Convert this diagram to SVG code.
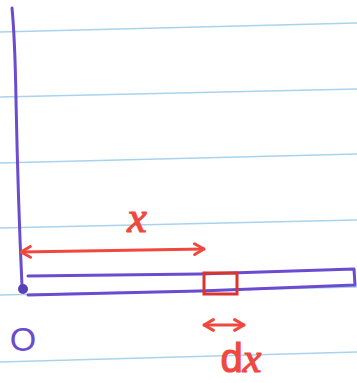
<svg xmlns="http://www.w3.org/2000/svg" width="357" height="383" viewBox="0 0 357 383">
<defs>
<style>
.rule{stroke:#a9d3ec;stroke-width:1.6;fill:none}
.pur{stroke:#6a4ccf;stroke-width:3;fill:none;stroke-linecap:round;stroke-linejoin:round}
.red{stroke:#f0483e;stroke-width:3.2;fill:none;stroke-linecap:round;stroke-linejoin:round}
.redt{fill:#f0483e;stroke:#f0483e;stroke-width:1.2;font-family:"Liberation Serif",serif;font-style:italic}
</style>
<marker id="ah" viewBox="0 0 10 10" refX="9" refY="5" markerWidth="4.2" markerHeight="4.2" orient="auto-start-reverse" markerUnits="strokeWidth">
<path d="M2,1 L9,5 L2,9" fill="none" stroke="#f0483e" stroke-width="2.2" stroke-linecap="round" stroke-linejoin="round"/>
</marker>
</defs>
<rect width="357" height="383" fill="#ffffff"/>
<g id="paper">
<line class="rule" x1="0" y1="32" x2="357" y2="23"/>
<line class="rule" x1="0" y1="97" x2="357" y2="89"/>
<line class="rule" x1="0" y1="163" x2="357" y2="154"/>
<line class="rule" x1="0" y1="228" x2="357" y2="220"/>
<line class="rule" x1="0" y1="295" x2="357" y2="287"/>
<line class="rule" x1="0" y1="362" x2="357" y2="352"/>
</g>
<g id="axis">
<path class="pur" d="M12,8 Q15,40 16,100 Q18,200 22,286"/>
<circle cx="23" cy="289" r="5" fill="#5b3fb8"/>
</g>
<g id="rod">
<path class="pur" d="M28,276 L200,274 L354,269 L355,285 L200,291 L28,295"/>
</g>
<g id="element">
<rect x="204" y="273" width="33" height="21" fill="none" stroke="#d9352d" stroke-width="3"/>
</g>
<g id="connectors">
<line class="red" x1="21" y1="252" x2="204" y2="249" marker-start="url(#ah)" marker-end="url(#ah)"/>
<line class="red" x1="204" y1="325" x2="244" y2="325" marker-start="url(#ah)" marker-end="url(#ah)"/>
</g>
<g id="labels">
<text class="redt" x="137" y="232" font-size="44" text-anchor="middle">x</text>
<text class="redt" x="241" y="372" font-size="40" text-anchor="middle" style="font-style:normal;font-family:'Liberation Sans',sans-serif">d<tspan style="font-style:italic;font-family:'Liberation Serif',serif" font-size="42">x</tspan></text>
<text x="23" y="351" font-size="34" text-anchor="middle" fill="#6a4ccf" font-family="Liberation Sans, sans-serif">O</text>
</g>
</svg>
